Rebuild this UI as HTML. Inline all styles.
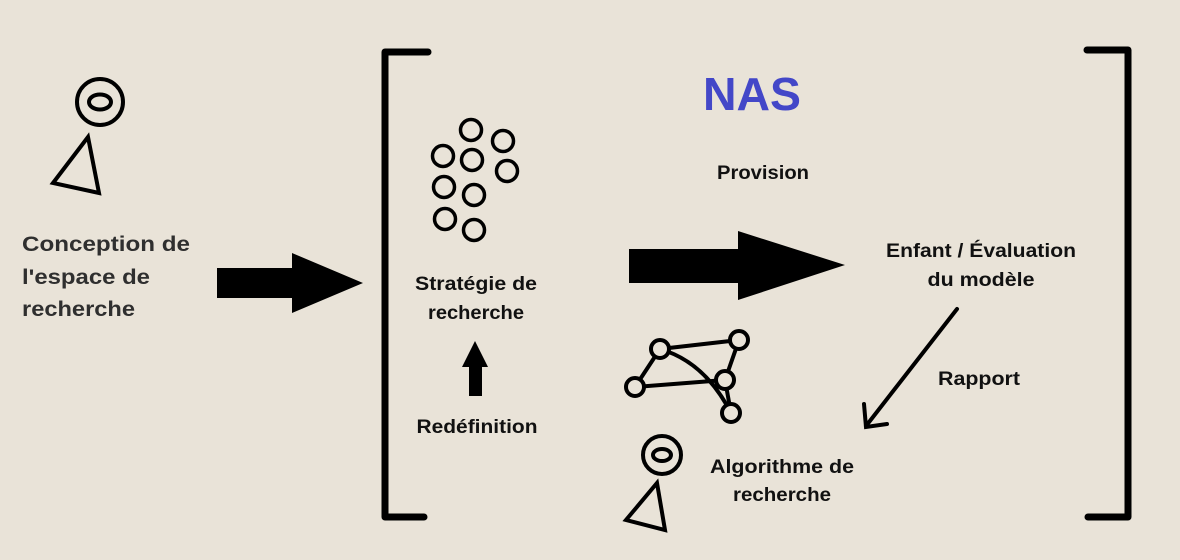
<!DOCTYPE html>
<html><head><meta charset="utf-8"><style>
html,body{margin:0;padding:0;background:#e9e3d8;}
svg{display:block}
text{font-family:"Liberation Sans",sans-serif;font-weight:bold;}
</style></head><body>
<svg width="1180" height="560" viewBox="0 0 1180 560" xmlns="http://www.w3.org/2000/svg">
<rect width="1180" height="560" fill="#e9e3d8"/>
<path d="M428 52 H385 V517 H424" fill="none" stroke="#000" stroke-width="7" stroke-linecap="round" stroke-linejoin="round"/>
<path d="M1087 50 H1128 V517 H1088" fill="none" stroke="#000" stroke-width="7" stroke-linecap="round" stroke-linejoin="round"/>
<g fill="none" stroke="#000" stroke-width="4">
<circle cx="100" cy="102" r="23"/>
<ellipse cx="100" cy="102" rx="11" ry="7.5"/>
<polygon points="88,137 99,193 53,183"/>
</g>
<g fill="#2f2f2f" font-size="21" lengthAdjust="spacingAndGlyphs">
<text x="22" y="251" textLength="168" lengthAdjust="spacingAndGlyphs">Conception de</text>
<text x="22" y="284" textLength="128" lengthAdjust="spacingAndGlyphs">l'espace de</text>
<text x="22" y="316" textLength="113" lengthAdjust="spacingAndGlyphs">recherche</text>
</g>
<polygon points="217,268 292,268 292,253 363,283 292,313 292,298 217,298" fill="#000"/>
<g fill="none" stroke="#000" stroke-width="3.5">
<circle cx="471" cy="130" r="10.5"/><circle cx="503" cy="141" r="10.5"/>
<circle cx="443" cy="156" r="10.5"/><circle cx="472" cy="160" r="10.5"/>
<circle cx="507" cy="171" r="10.5"/><circle cx="444" cy="187" r="10.5"/>
<circle cx="474" cy="195" r="10.5"/><circle cx="445" cy="219" r="10.5"/>
<circle cx="474" cy="230" r="10.5"/>
</g>
<g fill="#111" font-size="19" text-anchor="middle">
<text x="476" y="290" textLength="122" lengthAdjust="spacingAndGlyphs">Stratégie de</text>
<text x="476" y="319" textLength="96" lengthAdjust="spacingAndGlyphs">recherche</text>
<text x="477" y="433" textLength="121" lengthAdjust="spacingAndGlyphs">Redéfinition</text>
<text x="763" y="179" textLength="92" lengthAdjust="spacingAndGlyphs">Provision</text>
<text x="981" y="257" textLength="190" lengthAdjust="spacingAndGlyphs">Enfant / Évaluation</text>
<text x="981" y="286" textLength="107" lengthAdjust="spacingAndGlyphs">du modèle</text>
<text x="979" y="385" textLength="82" lengthAdjust="spacingAndGlyphs">Rapport</text>
<text x="782" y="473" textLength="144" lengthAdjust="spacingAndGlyphs">Algorithme de</text>
<text x="782" y="501" textLength="98" lengthAdjust="spacingAndGlyphs">recherche</text>
</g>
<polygon points="469,396 482,396 482,367 488,367 475,341 462,367 469,367" fill="#000"/>
<text x="752" y="110" font-size="46" fill="#4347c8" text-anchor="middle" textLength="98" lengthAdjust="spacingAndGlyphs">NAS</text>
<polygon points="629,249 738,249 738,231 845,265 738,300 738,283 629,283" fill="#000"/>
<g stroke="#000" stroke-width="4" stroke-linecap="round" fill="none">
<line x1="957" y1="309" x2="866" y2="426"/>
<polyline points="864,404 866,427 887,424"/>
</g>
<g fill="none" stroke="#000" stroke-width="4">
<line x1="660" y1="349" x2="739" y2="340"/>
<line x1="660" y1="349" x2="635" y2="387"/>
<line x1="635" y1="387" x2="725" y2="380"/>
<line x1="739" y1="340" x2="725" y2="380"/>
<line x1="725" y1="380" x2="731" y2="413"/>
<path d="M660 349 Q705 362 731 413"/>
</g>
<g fill="#e9e3d8" stroke="#000" stroke-width="4">
<circle cx="660" cy="349" r="9"/><circle cx="739" cy="340" r="9"/>
<circle cx="635" cy="387" r="9"/><circle cx="725" cy="380" r="9"/>
<circle cx="731" cy="413" r="9"/>
</g>
<g fill="none" stroke="#000" stroke-width="4">
<circle cx="662" cy="455" r="19"/>
<ellipse cx="662" cy="455" rx="9" ry="6"/>
<polygon points="657,483 665,530 626,520"/>
</g>
</svg>
</body></html>
